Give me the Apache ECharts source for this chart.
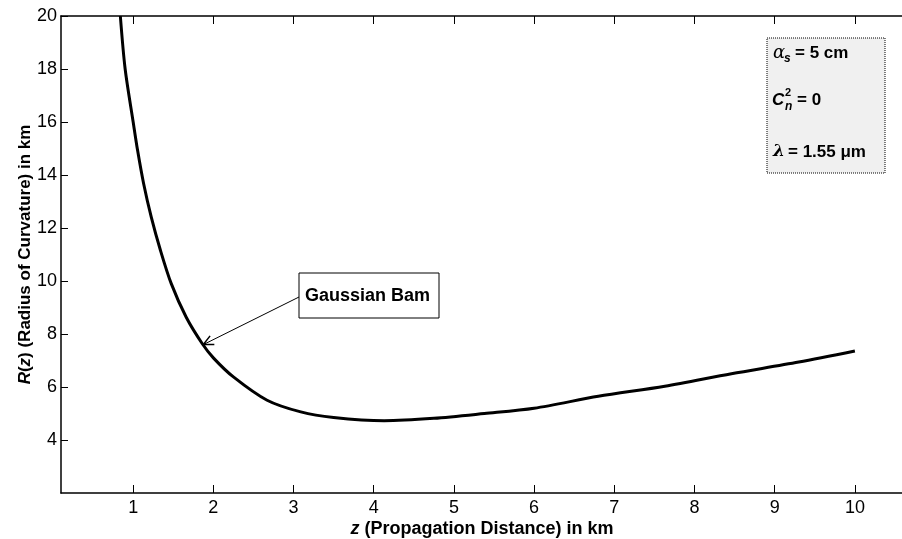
<!DOCTYPE html>
<html>
<head>
<meta charset="utf-8">
<script src="https://cdn.jsdelivr.net/npm/echarts@6/dist/echarts.min.js"></script>
<style>
  html, body { margin: 0; padding: 0; background: #fff; }
  #chart { width: 902px; height: 539px; }
</style>
</head>
<body>
<div id="chart"></div>
<script>
// --- Data ---
var zValues = [0.84, 0.9, 1.0, 1.055, 1.13, 1.225, 1.34, 1.475, 1.66, 1.86, 2.0, 2.25, 2.67, 3.09, 3.5, 4.13, 4.75, 5.38, 6.0, 6.8, 7.63, 8.46, 9.3, 10.0];
var rValues = [20, 18, 16, 14.93, 13.68, 12.42, 11.16, 9.9, 8.64, 7.64, 7.1, 6.38, 5.5, 5.06, 4.85, 4.73, 4.82, 5.0, 5.2, 5.65, 6.03, 6.5, 6.94, 7.36];
var xTicks = [1, 2, 3, 4, 5, 6, 7, 8, 9, 10];
var yTicks = [4, 6, 8, 10, 12, 14, 16, 18, 20];
var annotationText = 'Gaussian Bam';
var annotationPoint = [1.875, 7.6];

var FONT = '"Liberation Sans", Arial, sans-serif';

var curve = zValues.map(function(z, i) { return [z, rValues[i]]; });

var chart = echarts.init(document.getElementById('chart'), null, { renderer: 'canvas' });

var axisLine = { show: true, lineStyle: { color: '#000', width: 1.5 } };

var option = {
  backgroundColor: '#fff',
  animation: false,
  grid: { left: 61, top: 16, right: -1, bottom: 46, containLabel: false, outerBoundsMode: 'none' },
  xAxis: [
    {
      type: 'value', min: 0.1, max: 10.6, position: 'bottom',
      axisLine: axisLine,
      axisTick: { show: true, inside: true, length: 8, customValues: xTicks, lineStyle: { color: '#000' } },
      axisLabel: { customValues: xTicks, color: '#000', fontSize: 18, fontFamily: FONT, margin: 6 },
      splitLine: { show: false },
      name: '{i|z} (Propagation Distance) in km',
      nameLocation: 'middle', nameGap: 27, nameMoveOverlap: false,
      nameTextStyle: {
        color: '#000', fontSize: 18, fontWeight: 'bold', fontFamily: FONT,
        rich: { i: { fontStyle: 'italic', fontWeight: 'bold', fontSize: 18, fontFamily: FONT, color: '#000' } }
      }
    },
    {
      type: 'value', min: 0.1, max: 10.6, position: 'top',
      axisLine: axisLine,
      axisTick: { show: true, inside: true, length: 8, customValues: xTicks, lineStyle: { color: '#000' } },
      axisLabel: { show: false },
      splitLine: { show: false }
    }
  ],
  yAxis: {
    type: 'value', min: 2, max: 20,
    axisLine: axisLine,
    axisTick: { show: true, inside: true, length: 7, customValues: yTicks, lineStyle: { color: '#000' } },
    axisLabel: { customValues: yTicks, color: '#000', fontSize: 18, fontFamily: FONT, margin: 4 },
    splitLine: { show: false },
    name: '{i|R}({i|z}) (Radius of Curvature) in km',
    nameLocation: 'middle', nameGap: 27, nameMoveOverlap: false,
    nameTextStyle: {
      color: '#000', fontSize: 17, fontWeight: 'bold', fontFamily: FONT,
      rich: { i: { fontStyle: 'italic', fontWeight: 'bold', fontSize: 17, fontFamily: FONT, color: '#000' } }
    }
  },
  series: [
    {
      type: 'line',
      data: curve,
      smooth: 0.3,
      symbol: 'none',
      clip: true,
      lineStyle: { color: '#000', width: 3 }
    }
  ]
};

chart.setOption(option);

// --- Annotations: parameter box and "Gaussian Bam" call-out ---
function txt(x, y, text, size, italic, extra) {
  var s = {
    text: text, x: x, y: y,
    fill: '#000',
    font: (italic ? 'italic ' : '') + 'bold ' + size + 'px ' + FONT,
    verticalAlign: 'middle'
  };
  if (extra) for (var k in extra) s[k] = extra[k];
  return { type: 'text', z: 100, style: s };
}

var tip = chart.convertToPixel({ gridIndex: 0 }, annotationPoint);
var boxX = 299, boxY = 273, boxW = 140, boxH = 45;
var start = [boxX, boxY + 24];
var ang = Math.atan2(start[1] - tip[1], start[0] - tip[0]);
var armLen = 11, spread = 0.45;
var arm1 = [tip[0] + armLen * Math.cos(ang + spread), tip[1] + armLen * Math.sin(ang + spread)];
var arm2 = [tip[0] + armLen * Math.cos(ang - spread), tip[1] + armLen * Math.sin(ang - spread)];

var graphics = [
  // parameter box
  {
    type: 'rect', z: 90,
    shape: { x: 767, y: 38, width: 118, height: 135 },
    style: { fill: '#f0f0f0', stroke: '#000', lineWidth: 1, lineDash: [1, 1] }
  },
  txt(773, 53, 'α', 18, true, { font: 'italic 18px "DejaVu Serif", serif' }),
  txt(784, 59, 's', 12, true),
  txt(795, 53, '= 5 cm', 17, false),
  txt(772, 100, 'C', 17, true),
  txt(785, 93, '2', 11, false),
  txt(785, 107, 'n', 12, true),
  txt(797, 100, '= 0', 17, false),
  txt(773, 152, 'λ', 17, false, { font: 'bold italic 17px "DejaVu Serif", serif' }),
  txt(788, 152, '= 1.55 μm', 17, false),

  // call-out box
  {
    type: 'rect', z: 90,
    shape: { x: boxX, y: boxY, width: boxW, height: boxH },
    style: { fill: '#fff', stroke: '#000', lineWidth: 1 }
  },
  txt(boxX + 6, boxY + 23, annotationText, 18, false),
  {
    type: 'line', z: 95,
    shape: { x1: start[0], y1: start[1], x2: tip[0], y2: tip[1] },
    style: { stroke: '#000', lineWidth: 1 }
  },
  {
    type: 'polyline', z: 95,
    shape: { points: [arm1, tip, arm2] },
    style: { stroke: '#000', lineWidth: 1.5, fill: null }
  }
];

chart.setOption({ graphic: graphics });
</script>
</body>
</html>
